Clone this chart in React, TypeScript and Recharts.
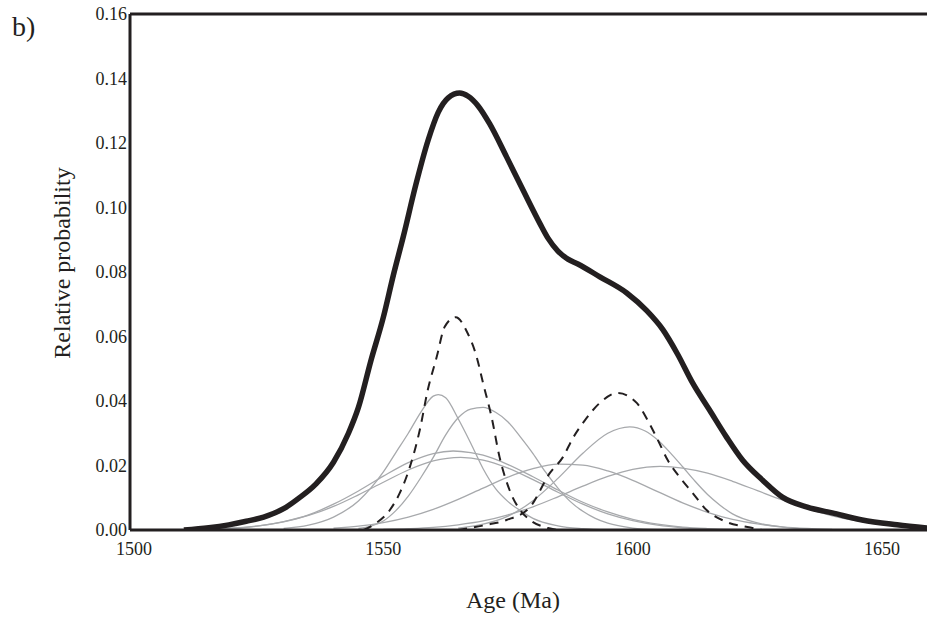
import React from 'react';
import { LineChart, Line, XAxis, YAxis, ReferenceLine, Label } from 'recharts';

type Pt = { age: number; p: number };
const pts = (rows: number[][]): Pt[] => rows.map(([age, p]) => ({ age, p }));

// Summed probability density (thick curve)
const totalCurve = pts([
  [1510, 0], [1515, 0.0007], [1519, 0.0016], [1522.5, 0.0027], [1526, 0.004],
  [1530, 0.0066], [1533, 0.0098], [1536.5, 0.0143], [1540, 0.021], [1543, 0.03],
  [1545, 0.038], [1547.5, 0.0525], [1550, 0.066], [1552, 0.079], [1554, 0.091],
  [1556.5, 0.107], [1559, 0.121], [1561, 0.1295], [1563, 0.134], [1565.3, 0.1355],
  [1567, 0.1345], [1569, 0.1315], [1571.3, 0.126], [1574.7, 0.1157], [1578, 0.1054],
  [1581.4, 0.095], [1583, 0.0905], [1585, 0.0865], [1587, 0.084], [1589, 0.0825],
  [1593.4, 0.0785], [1598.8, 0.0735], [1602.8, 0.068], [1606, 0.0622], [1609, 0.0545],
  [1612, 0.0456], [1615.4, 0.0372], [1618.8, 0.0288], [1622, 0.0217], [1626, 0.0155],
  [1630, 0.0102], [1635, 0.0071], [1640, 0.0053], [1646, 0.0031], [1653, 0.0016],
  [1659, 0.0006],
]);

// Fitted age components (dashed)
const componentOld = pts([
  [1546, 0], [1548, 0.0016], [1551.3, 0.0062], [1553.3, 0.0115], [1555.3, 0.0195],
  [1557.3, 0.031], [1558.9, 0.0434], [1560.7, 0.0537], [1562.3, 0.063], [1564.5, 0.066],
  [1566.9, 0.061], [1568.7, 0.0537], [1570, 0.0455], [1571.7, 0.035], [1573.3, 0.0226],
  [1575.3, 0.0124], [1577.4, 0.0062], [1579.4, 0.0031], [1583, 0.0006], [1585, 0],
]);
const componentYoung = pts([
  [1565, 0], [1567.3, 0.0006], [1570.7, 0.0016], [1574.7, 0.0031], [1579.4, 0.0071],
  [1583.4, 0.0177], [1586, 0.0226], [1588, 0.0285], [1590.4, 0.034], [1593.4, 0.0394],
  [1597, 0.0425], [1600.8, 0.0394], [1603, 0.034], [1605, 0.028], [1607, 0.0217],
  [1609.4, 0.0164], [1612, 0.0115], [1614.8, 0.0062], [1618.8, 0.0025], [1623, 0.0009],
  [1626, 0],
]);

// Individual analyses (thin grey)
const grainA = pts([
  [1530, 0.0005], [1535, 0.0015], [1540, 0.004], [1545, 0.009], [1550, 0.018],
  [1552.5, 0.024], [1555, 0.03], [1557.5, 0.0365], [1560, 0.0415], [1561, 0.042],
  [1562.5, 0.041], [1565, 0.0345], [1567.5, 0.027], [1570, 0.019], [1572.5, 0.0128],
  [1575, 0.0088], [1577.5, 0.006], [1580, 0.0036], [1585, 0.0013], [1590, 0.0004],
  [1595, 0],
]);
const grainB = pts([
  [1545, 0.0005], [1547.5, 0.0012], [1550, 0.0028], [1552.5, 0.006], [1555, 0.0105],
  [1557.5, 0.0162], [1560, 0.0225], [1562.5, 0.0295], [1565, 0.0348], [1567.5, 0.0375],
  [1570, 0.038], [1572.5, 0.0365], [1575, 0.0335], [1577.5, 0.0288], [1580, 0.0237],
  [1582.5, 0.018], [1585, 0.013], [1587.5, 0.0088], [1590, 0.0058], [1592.5, 0.0036],
  [1595, 0.0021], [1600, 0.0006], [1605, 0.0001],
]);
const grainC = pts([
  [1515, 0.0002], [1520, 0.00056], [1525, 0.00125], [1530, 0.0026], [1535, 0.0047],
  [1540, 0.008], [1545, 0.0121], [1550, 0.0167], [1555, 0.0209], [1560, 0.0237],
  [1564, 0.0245], [1567.5, 0.024], [1570, 0.0232], [1575, 0.0203], [1580, 0.0165],
  [1585, 0.0124], [1590, 0.0086], [1595, 0.0056], [1600, 0.0033], [1605, 0.0018],
  [1610, 0.0009], [1615, 0.00045], [1620, 0.0002], [1625, 0.0001],
]);
const grainD = pts([
  [1515, 0.00027], [1520, 0.00063], [1525, 0.0013], [1530, 0.0025], [1535, 0.0045],
  [1540, 0.0073], [1545, 0.0109], [1550, 0.0148], [1555, 0.0186], [1560, 0.0214],
  [1565.5, 0.0225], [1570, 0.0217], [1575, 0.0192], [1580, 0.0156], [1585, 0.0117],
  [1590, 0.008], [1595, 0.005], [1600, 0.0029], [1605, 0.0015], [1610, 0.0007],
  [1615, 0.0003], [1620, 0.0001],
]);
const grainE = pts([
  [1540, 0.0006], [1545, 0.0012], [1550, 0.0023], [1555, 0.004], [1560, 0.0064],
  [1565, 0.0095], [1570, 0.013], [1575, 0.0164], [1580, 0.019], [1585, 0.0204],
  [1590, 0.0201], [1595, 0.0183], [1600, 0.0154], [1605, 0.0119], [1610, 0.0084],
  [1615, 0.0055], [1620, 0.0033], [1625, 0.0019], [1630, 0.001], [1635, 0.0005],
  [1640, 0.0002],
]);
const grainF = pts([
  [1550, 0.00017], [1555, 0.0004], [1560, 0.0008], [1565, 0.0016], [1570, 0.0028],
  [1575, 0.0047], [1580, 0.0072], [1585, 0.0103], [1590, 0.0136], [1595, 0.0166],
  [1600, 0.0188], [1605.5, 0.0197], [1610, 0.0192], [1615, 0.0176], [1620, 0.0151],
  [1625, 0.0122], [1630, 0.0093], [1635, 0.0066], [1640, 0.0044], [1645, 0.0028],
  [1650, 0.0017], [1655, 0.0009], [1659, 0.0005],
]);
const grainG = pts([
  [1565, 0.0006], [1570, 0.0018], [1575, 0.0043], [1580, 0.0091], [1585, 0.016],
  [1590, 0.0238], [1595, 0.03], [1599.4, 0.032], [1602.5, 0.0307], [1605, 0.0279],
  [1607.5, 0.024], [1610, 0.0196], [1612.5, 0.0151], [1615, 0.011], [1617.5, 0.0077],
  [1620, 0.005], [1625, 0.0022], [1630, 0.0009], [1635, 0.0003],
]);

const greyCurves = [grainA, grainB, grainC, grainD, grainE, grainF, grainG];

const ageTicks = [1500, 1550, 1600, 1650];
const probTicks = [0, 0.02, 0.04, 0.06, 0.08, 0.1, 0.12, 0.14, 0.16];

const INK = '#231f20';
const GREY = '#a7a9ac';
const FONT = '"Liberation Serif", "Times New Roman", serif';

export default function App() {
  return (
    <div style={{ position: 'absolute', left: 0, top: 0, width: 927, height: 619, background: '#fff' }}>
      <LineChart width={927} height={619} margin={{ top: 14, right: 0, bottom: 0, left: 0 }}>
        <XAxis
          type="number"
          dataKey="age"
          domain={[1499.2, 1659]}
          allowDataOverflow
          ticks={ageTicks}
          height={89}
          axisLine={{ stroke: INK, strokeWidth: 3 }}
          tickLine={false}
          tickSize={0}
          tickMargin={12}
          tick={{ fill: INK, fontSize: 18, fontFamily: FONT }}
        >
          <Label
            content={() => (
              <text x={513} y={608} textAnchor="middle" fill={INK} fontSize={24} fontFamily={FONT}>
                Age (Ma)
              </text>
            )}
          />
        </XAxis>
        <YAxis
          type="number"
          domain={[0, 0.16]}
          allowDataOverflow
          ticks={probTicks}
          width={130}
          axisLine={{ stroke: INK, strokeWidth: 3 }}
          tickLine={false}
          tickSize={0}
          tickMargin={3}
          tickFormatter={(v: number) => v.toFixed(2)}
          tick={{ fill: INK, fontSize: 18, fontFamily: FONT }}
        >
          <Label
            content={() => (
              <text
                x={62}
                y={263}
                transform="rotate(-90 62 263)"
                textAnchor="middle"
                dominantBaseline="central"
                fill={INK}
                fontSize={24}
                fontFamily={FONT}
              >
                Relative probability
              </text>
            )}
          />
        </YAxis>
        <ReferenceLine y={0.16} stroke={INK} strokeWidth={3} ifOverflow="extendDomain" />
        {greyCurves.map((d, i) => (
          <Line
            key={i}
            data={d}
            dataKey="p"
            type="monotone"
            stroke={GREY}
            strokeWidth={1.3}
            dot={false}
            isAnimationActive={false}
          />
        ))}
        <Line data={componentOld} dataKey="p" type="monotone" stroke={INK} strokeWidth={2} strokeDasharray="9 7" dot={false} isAnimationActive={false} />
        <Line data={componentYoung} dataKey="p" type="monotone" stroke={INK} strokeWidth={2} strokeDasharray="9 7" dot={false} isAnimationActive={false} />
        <Line data={totalCurve} dataKey="p" type="monotone" stroke={INK} strokeWidth={5.5} dot={false} isAnimationActive={false} />
      </LineChart>
      <div
        style={{
          position: 'absolute',
          left: 12,
          top: 9,
          fontFamily: FONT,
          fontSize: 28,
          color: INK,
          lineHeight: '36px',
        }}
      >
        b)
      </div>
    </div>
  );
}
